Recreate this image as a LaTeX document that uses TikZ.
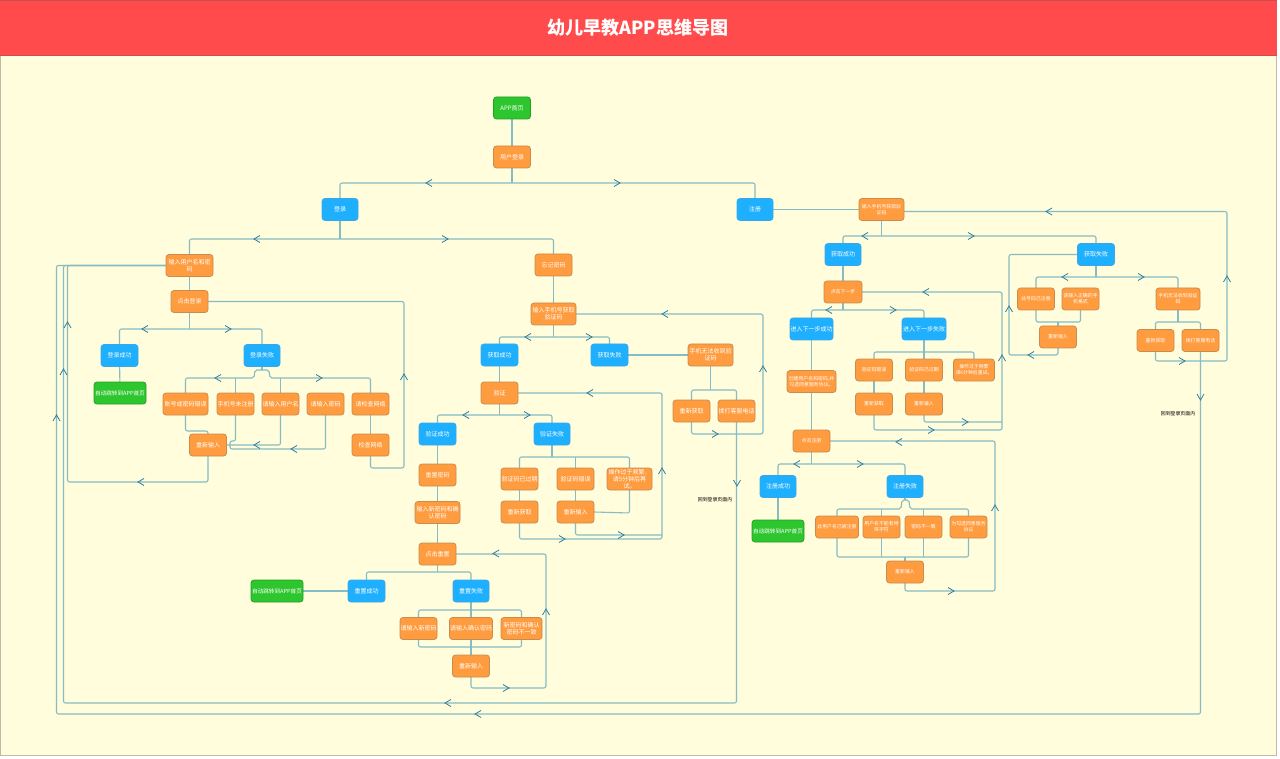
\documentclass[tikz,border=0pt]{standalone}
\usepackage{fontspec}
\setmainfont{Noto Sans CJK SC}
\usetikzlibrary{backgrounds}
\definecolor{canvasbg}{HTML}{FFFDDC}
\definecolor{canvasline}{HTML}{BDBBA8}
\definecolor{headred}{HTML}{FF4B4B}
\definecolor{headline}{HTML}{C9504F}
\definecolor{orfill}{HTML}{FF9C3F}
\definecolor{orline}{HTML}{C98C50}
\definecolor{blfill}{HTML}{1EAFFF}
\definecolor{blline}{HTML}{3AA8E8}
\definecolor{grfill}{HTML}{2EC62E}
\definecolor{grline}{HTML}{24A024}
\definecolor{connc}{HTML}{86BCC6}
\definecolor{chevc}{HTML}{2F7F9F}
\newcommand\fsA{\fontsize{6}{7}\selectfont}
\newcommand\fsB{\fontsize{4.9}{6.2}\selectfont}
\newcommand\fsG{\fontsize{5.6}{7}\selectfont}
\tikzset{
  x=1pt,y=-1pt,
  box/.style={rectangle,rounded corners=3pt,draw,line width=0.8pt,inner sep=0pt,outer sep=0pt,align=center,text=white,font=\fsA,minimum height=22pt},
  onode/.style={box,fill=orfill,draw=orline},
  onsmall/.style={box,fill=orfill,draw=orline,font=\fsB},
  bnode/.style={box,fill=blfill,draw=blline},
  gnode/.style={box,fill=grfill,draw=grline},
  gwide/.style={box,fill=grfill,draw=grline,font=\fsG},
  conn/.style={draw=connc,line width=1.1pt,rounded corners=2pt},
  chev/.style={draw=chevc,line width=0.8pt},
  note/.style={font=\fsB,text=black,inner sep=0pt}
}
\newcommand\nd[6][onode]{\node[#1,minimum width=#5pt] (#2) at (#3,#4) {#6};}
\newcommand\chL[2]{\draw[chev,shift={(#1,#2)}] (3,-3.5)--(-3,0)--(3,3.5);}
\newcommand\chR[2]{\draw[chev,shift={(#1,#2)}] (-3,-3.5)--(3,0)--(-3,3.5);}
\newcommand\chU[2]{\draw[chev,shift={(#1,#2)}] (-3.5,3)--(0,-3)--(3.5,3);}
\newcommand\chD[2]{\draw[chev,shift={(#1,#2)}] (-3.5,-3)--(0,3)--(3.5,-3);}
\begin{document}
\begin{tikzpicture}
\useasboundingbox (0,0) rectangle (1280,759);
% ---------- nodes ----------
\node[font=\fontsize{18}{20}\selectfont\bfseries,text=white,inner sep=0pt] (title) at (638,28) {幼儿早教APP思维导图};
\nd[gnode]{home}{512}{108}{37}{APP首页}
\nd{ulogin}{512}{157}{37}{用户登录}
\nd[bnode]{dl}{340}{209.5}{36}{登录}
\nd[bnode]{zc}{755}{209.5}{36}{注册}
% login branch
\nd{inname}{189.5}{265.5}{47}{输入用户名和密\\码}
\nd{clicklogin}{189.5}{301.5}{37}{点击登录}
\nd[bnode]{lok}{119.5}{355.5}{37}{登录成功}
\nd[bnode]{lfail}{262}{355.5}{36}{登录失败}
\nd[gwide]{gohomeA}{120}{393}{52}{自动跳转到APP首页}
\nd{ea}{185.5}{404}{45}{账号或密码错误}
\nd{eb}{235.5}{404}{37}{手机号未注册}
\nd{ec}{280.5}{404}{37}{请输入用户名}
\nd{ed}{325.5}{404}{37}{请输入密码}
\nd{ee}{370.5}{404}{37}{请检查网络}
\nd{retry}{208}{445}{37}{重新输入}
\nd{checknet}{370.5}{445}{37}{检查网络}
% forgot branch
\nd{forget}{553.5}{265}{37}{忘记密码}
\nd{fphone}{553.5}{314}{45}{输入手机号获取\\验证码}
\nd[bnode]{fok}{499.5}{355}{37}{获取成功}
\nd[bnode]{ffail}{609.5}{355}{37}{获取失败}
\nd{fnorecv}{710.5}{355}{45}{手机无法收到验\\证码}
\nd{verify}{499.5}{393}{37}{验证}
\nd{fra}{691.5}{411}{37}{重新获取}
\nd{frb}{736.5}{411}{37}{拨打客服电话}
\nd[bnode]{vok}{437.5}{434}{37}{验证成功}
\nd[bnode]{vfail}{552}{434}{36}{验证失败}
\nd{resetpw}{437.5}{475}{37}{重置密码}
\nd{newpw}{437.5}{512.5}{45}{输入新密码和确\\认密码}
\nd{clickreset}{437.5}{554}{37}{点击重置}
\nd{va}{519.5}{479}{37}{验证码已过期}
\nd{vb}{575.5}{479}{37}{验证码错误}
\nd{vc}{629.5}{479}{45}{操作过于频繁，\\请5分钟后再\\试。}
\nd{vra}{519.5}{512}{37}{重新获取}
\nd{vrb}{575.5}{512}{37}{重新输入}
\nd[bnode]{rok}{366.5}{591}{37}{重置成功}
\nd[bnode]{rfail}{471}{591}{36}{重置失败}
\nd[gwide]{gohomeB}{277}{591}{52}{自动跳转到APP首页}
\nd{rfa}{418.5}{628.5}{37}{请输入新密码}
\nd{rfb}{471}{628.5}{43}{请输入确认密码}
\nd{rfc}{521.5}{628.5}{41}{新密码和确认\\密码不一致}
\nd{rfr}{471}{666}{37}{重新输入}
% register branch
\nd[onsmall]{rphone}{881.5}{209.5}{45}{输入手机号获取验\\证码}
\nd[bnode]{rgok}{843}{254.5}{36}{获取成功}
\nd[bnode]{rgfail}{1096}{254.5}{37}{获取失败}
\nd[onsmall]{next}{843}{292}{38}{点击下一步}
\nd[bnode]{nok}{811.5}{329}{43}{进入下一步成功}
\nd[bnode]{nfail}{924}{329}{44}{进入下一步失败}
\nd[onsmall]{create}{811.5}{381.5}{49}{创建用户名和密码,并\\勾选同意服务协议。}
\nd[onsmall]{na}{874}{370}{37}{验证码错误}
\nd[onsmall]{nb}{924}{370}{37}{验证码已过期}
\nd[onsmall]{nc}{974}{370}{41}{操作过于频繁\\请6分钟后重试。}
\nd[onsmall]{nra}{874}{404}{37}{重新获取}
\nd[onsmall]{nrb}{924}{404}{37}{重新输入}
\nd[onsmall]{clickreg}{811.5}{441}{37}{点击注册}
\nd[bnode]{regok}{778}{486.5}{36}{注册成功}
\nd[bnode]{regfail}{905}{486.5}{36}{注册失败}
\nd[gwide]{gohomeC}{778}{531}{52}{自动跳转到APP首页}
\nd[onsmall]{ga}{837}{527}{43}{此用户名已被注册}
\nd[onsmall]{gb}{881.5}{527}{37}{用户名不能有特\\殊字符}
\nd[onsmall]{gc}{923.5}{527}{37}{密码不一致}
\nd[onsmall]{gd}{968.5}{527}{37}{为勾选同意服务\\协议}
\nd[onsmall]{gr}{905}{572}{37}{重新输入}
\nd[onsmall]{ha}{1036}{299}{37}{此号码已注册}
\nd[onsmall]{hb}{1080.5}{299}{37}{请输入正确的手\\机格式}
\nd[onsmall]{hc}{1178}{299}{44}{手机无法收到验证\\码}
\nd[onsmall]{hr}{1058}{337}{37}{重新输入}
\nd[onsmall]{hra}{1155.5}{340.5}{37}{重新获取}
\nd[onsmall]{hrb}{1200.5}{340.5}{37}{拨打客服电话}
\node[note] (backa) at (715,500) {回到登录页面内};
\node[note] (backb) at (1178,414) {回到登录页面内};
% ---------- canvas and connectors ----------
\begin{pgfonlayer}{background}
\fill[white] (0,0) rectangle (1280,759);
\draw[fill=canvasbg,draw=canvasline,line width=1pt] (0.5,0) rectangle (1276.7,755);
\draw[fill=headred,draw=none] (0,0) rectangle (1277,55);
\draw[headline,line width=1pt] (0,55.3) -- (1277,55.3);
\draw[headline,line width=0.8pt] (0,0.4) -- (1277,0.4);
\draw[conn] (home) -- (ulogin);
\draw[conn] (ulogin.south) -- (512,183);
\draw[conn] (dl.north) -- (340,183) -- (755,183) -- (zc.north);
\draw[conn] (dl.south) -- (340,239);
\draw[conn] (inname.north) -- (189.5,239) -- (553.5,239) -- (forget.north);
\draw[conn] (forget) -- (fphone);
\draw[conn] (fphone.south) -- (553.5,337);
\draw[conn] (fok.north) -- (499.5,337) -- (609.5,337) -- (ffail.north);
\draw[conn] (inname) -- (clicklogin);
\draw[conn] (clicklogin.south) -- (189.5,329);
\draw[conn] (lok.north) -- (119.5,329) -- (262,329) -- (lfail.north);
\draw[conn] (lok) -- (gohomeA);
\draw[conn] (lfail.south) -- (262,370);
\draw[conn] (ea.north) -- (185.5,378) -- (254,378) -- (255,370) -- (269,370) -- (270,378) -- (370.5,378) -- (ee.north);
\draw[conn] (235.5,378) -- (eb.north);
\draw[conn] (280.5,378) -- (ec.north);
\draw[conn] (ea.south) -- (185.5,431) -- (208,431) -- (retry.north);
\draw[conn] (eb.south) -- (235.5,441) -- (230,441) -- (230,449) -- (325.5,449) -- (ed.south);
\draw[conn] (ec.south) -- (280.5,445) -- (retry.east);
\draw[conn] (retry.south) -- (208,482) -- (67.5,482) -- (67.5,265.5) -- (inname.west);
\draw[conn] (ee) -- (checknet);
\draw[conn] (checknet.south) -- (370.5,468) -- (404,468) -- (404,301.5) -- (clicklogin.east);
\draw[conn] (fok) -- (verify);
\draw[conn] (verify.south) -- (499.5,415);
\draw[conn] (vok.north) -- (437.5,415) -- (552,415) -- (vfail.north);
\draw[conn] (vok) -- (resetpw);
\draw[conn] (resetpw) -- (newpw);
\draw[conn] (newpw) -- (clickreset);
\draw[conn] (vfail.south) -- (552,457);
\draw[conn] (va.north) -- (519.5,457) -- (629.5,457) -- (vc.north);
\draw[conn] (575.5,457) -- (vb.north);
\draw[conn] (va) -- (vra);
\draw[conn] (vb) -- (vrb);
\draw[conn] (vc.south) -- (629.5,513) -- (vrb.east);
\draw[conn] (vra.south) -- (519.5,539) -- (662,539) -- (662,393) -- (verify.east);
\draw[conn] (vrb.south) -- (575.5,535) -- (662,535);
\draw[conn] (ffail) -- (fnorecv);
\draw[conn] (fnorecv.south) -- (710.5,390);
\draw[conn] (fra.north) -- (691.5,390) -- (736.5,390) -- (frb.north);
\draw[conn] (fra.south) -- (691.5,434) -- (763,434) -- (763,314) -- (fphone.east);
\draw[conn] (frb.south) -- (736.5,703) -- (63.5,703) -- (63.5,265.5) -- (inname.west);
\draw[conn] (hrb.south) -- (1200.5,714) -- (56.5,714) -- (56.5,265.5) -- (inname.west);
\draw[conn] (clickreset.south) -- (437.5,572);
\draw[conn] (rok.north) -- (366.5,572) -- (471,572) -- (rfail.north);
\draw[conn] (gohomeB) -- (rok);
\draw[conn] (rfail.south) -- (471,610);
\draw[conn] (rfa.north) -- (418.5,610) -- (521.5,610) -- (rfc.north);
\draw[conn] (471,610) -- (rfb.north);
\draw[conn] (rfa.south) -- (418.5,647) -- (521.5,647) -- (rfc.south);
\draw[conn] (rfb.south) -- (rfr.north);
\draw[conn] (rfr.south) -- (471,688) -- (546,688) -- (546,554) -- (clickreset.east);
\draw[conn] (zc) -- (rphone);
\draw[conn] (rphone.south) -- (881.5,236);
\draw[conn] (rgok.north) -- (843,236) -- (1096,236) -- (rgfail.north);
\draw[conn] (rgok) -- (next);
\draw[conn] (next.south) -- (843,310);
\draw[conn] (nok.north) -- (811.5,310) -- (924,310) -- (nfail.north);
\draw[conn] (nok) -- (create);
\draw[conn] (create) -- (clickreg);
\draw[conn] (nfail.south) -- (924,352);
\draw[conn] (na.north) -- (874,352) -- (974,352) -- (nc.north);
\draw[conn] (924,352) -- (nb.north);
\draw[conn] (na) -- (nra);
\draw[conn] (nb) -- (nrb);
\draw[conn] (nra.south) -- (874,430) -- (1002,430) -- (1002,292) -- (next.east);
\draw[conn] (nrb.south) -- (924,422) -- (1002,422);
\draw[conn] (clickreg.south) -- (811.5,464);
\draw[conn] (regok.north) -- (778,464) -- (905,464) -- (regfail.north);
\draw[conn] (regok) -- (gohomeC);
\draw[conn] (regfail.south) -- (905,500);
\draw[conn] (ga.north) -- (837,509) -- (901,509) -- (902,500) -- (909,500) -- (910,509) -- (968.5,509) -- (gd.north);
\draw[conn] (881.5,509) -- (gb.north);
\draw[conn] (923.5,509) -- (gc.north);
\draw[conn] (ga.south) -- (837,557) -- (968.5,557) -- (gd.south);
\draw[conn] (gb.south) -- (881.5,557);
\draw[conn] (gc.south) -- (923.5,557);
\draw[conn] (905,557) -- (gr.north);
\draw[conn] (gr.south) -- (905,591) -- (995,591) -- (995,441) -- (clickreg.east);
\draw[conn] (rgfail.west) -- (1009,254.5) -- (1009,355) -- (1058,355) -- (hr.south);
\draw[conn] (rgfail.south) -- (1096,277);
\draw[conn] (ha.north) -- (1036,277) -- (1178,277) -- (hc.north);
\draw[conn] (ha.south) -- (1036,322) -- (1080.5,322) -- (hb.south);
\draw[conn] (1058,322) -- (hr.north);
\draw[conn] (hc.south) -- (1178,322);
\draw[conn] (hra.north) -- (1155.5,322) -- (1200.5,322) -- (hrb.north);
\draw[conn] (hra.south) -- (1155.5,361) -- (1227,361) -- (1227,211.5) -- ([yshift=-2pt]rphone.east);
\end{pgfonlayer}
% ---------- arrow marks on the lines ----------
\chL{429}{183}\chR{617}{183}
\chL{257}{239}\chR{445}{239}
\chL{145}{329}\chR{228}{329}
\chL{218}{378}\chR{319}{378}
\chL{257}{445}\chL{294}{449}
\chL{141}{482}\chU{67.5}{325}\chU{63.5}{372}\chU{56.5}{418}
\chU{404}{377}
\chL{528}{337}\chR{589}{337}
\chL{466}{415}\chR{527}{415}
\chR{562}{539}\chR{621}{535}\chU{662}{471}\chL{590}{393}
\chR{715}{434}\chU{763}{369}\chL{665}{314}\chD{737}{483}
\chR{506}{688}\chU{546}{612}\chL{496}{553.5}
\chL{448}{703}\chL{478}{714}
\chL{865}{236}\chR{971}{236}
\chL{829}{310}\chR{893}{310}
\chR{931}{430}\chR{965}{422}\chU{1002}{358}\chL{926}{292}
\chL{797}{464}\chR{860}{464}
\chR{951}{591}\chU{995}{508}\chL{899}{442}
\chU{1009}{309}\chL{1031}{355}
\chL{1065}{277}\chR{1141}{277}
\chL{1049}{211.5}\chU{1227}{279}\chR{1182}{361}\chD{1200.5}{397}
\end{tikzpicture}
\end{document}
